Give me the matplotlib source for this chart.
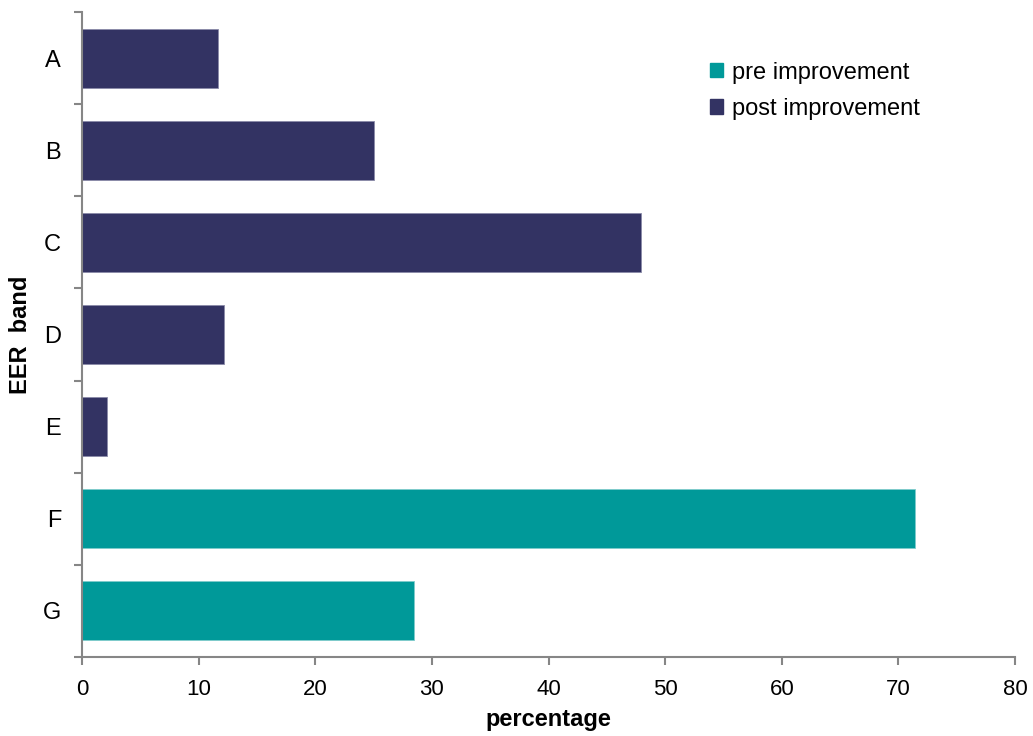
#!/usr/bin/env python3
"""
EER band distribution, pre and post improvement (horizontal bars)
"""
import matplotlib
matplotlib.use("Agg")
import matplotlib.pyplot as plt
from matplotlib.patches import Patch

bands = ["A", "B", "C", "D", "E", "F", "G"]
post_improvement = [11.7, 25.0, 47.9, 12.2, 2.1, 0, 0]
pre_improvement = [0, 0, 0, 0, 0, 71.4, 28.5]
x_ticks = [0, 10, 20, 30, 40, 50, 60, 70, 80]

NAVY = "#333363"
TEAL = "#009999"
AXIS_GREY = "#868686"


def main():
    plt.rcParams["font.family"] = ["Liberation Sans", "DejaVu Sans"]
    fig = plt.figure(figsize=(10.33, 7.36), dpi=100)
    ax = fig.add_axes([0.0794, 0.1073, 0.9032, 0.8764])

    pos = list(range(len(bands)))
    ax.barh(pos, post_improvement, height=0.64, color=NAVY,
            edgecolor="#8a8aa8", linewidth=0.6)
    ax.barh(pos, pre_improvement, height=0.64, color=TEAL,
            edgecolor="#7fcccc", linewidth=0.6)

    ax.set_ylim(len(bands) - 0.5, -0.5)
    ax.set_xlim(0, 80)
    ax.set_xticks(x_ticks)
    ax.set_xticklabels([str(t) for t in x_ticks], fontsize=16)
    ax.set_yticks(pos)
    ax.set_yticklabels(bands, fontsize=17)
    ax.tick_params(axis="y", length=0, pad=15)
    # ticks between categories on y axis
    ax.set_yticks([p - 0.5 for p in pos] + [len(bands) - 0.5], minor=True)
    ax.tick_params(axis="y", which="minor", length=6, width=1.5,
                   color=AXIS_GREY)
    ax.tick_params(axis="x", length=6, width=1.5, color=AXIS_GREY, pad=10)

    for side in ("top", "right"):
        ax.spines[side].set_visible(False)
    for side in ("left", "bottom"):
        ax.spines[side].set_color(AXIS_GREY)
        ax.spines[side].set_linewidth(1.5)

    ax.set_xlabel("percentage", fontsize=17, fontweight="bold", va="center")
    ax.xaxis.set_label_coords(0.5, -0.097)
    ax.set_ylabel("EER  band", fontsize=17, fontweight="bold", va="center")
    ax.yaxis.set_label_coords(-0.066, 0.5)

    handles = [Patch(facecolor=TEAL, edgecolor=TEAL),
               Patch(facecolor=NAVY, edgecolor=NAVY)]
    ax.legend(handles, ["pre improvement", "post improvement"],
              loc="upper left", bbox_to_anchor=(0.65, 0.956), frameon=False,
              fontsize=17, handlelength=0.55, handleheight=0.55,
              handletextpad=0.4, labelspacing=0.6)

    fig.savefig("out.png", dpi=100)


if __name__ == '__main__':
    main()
